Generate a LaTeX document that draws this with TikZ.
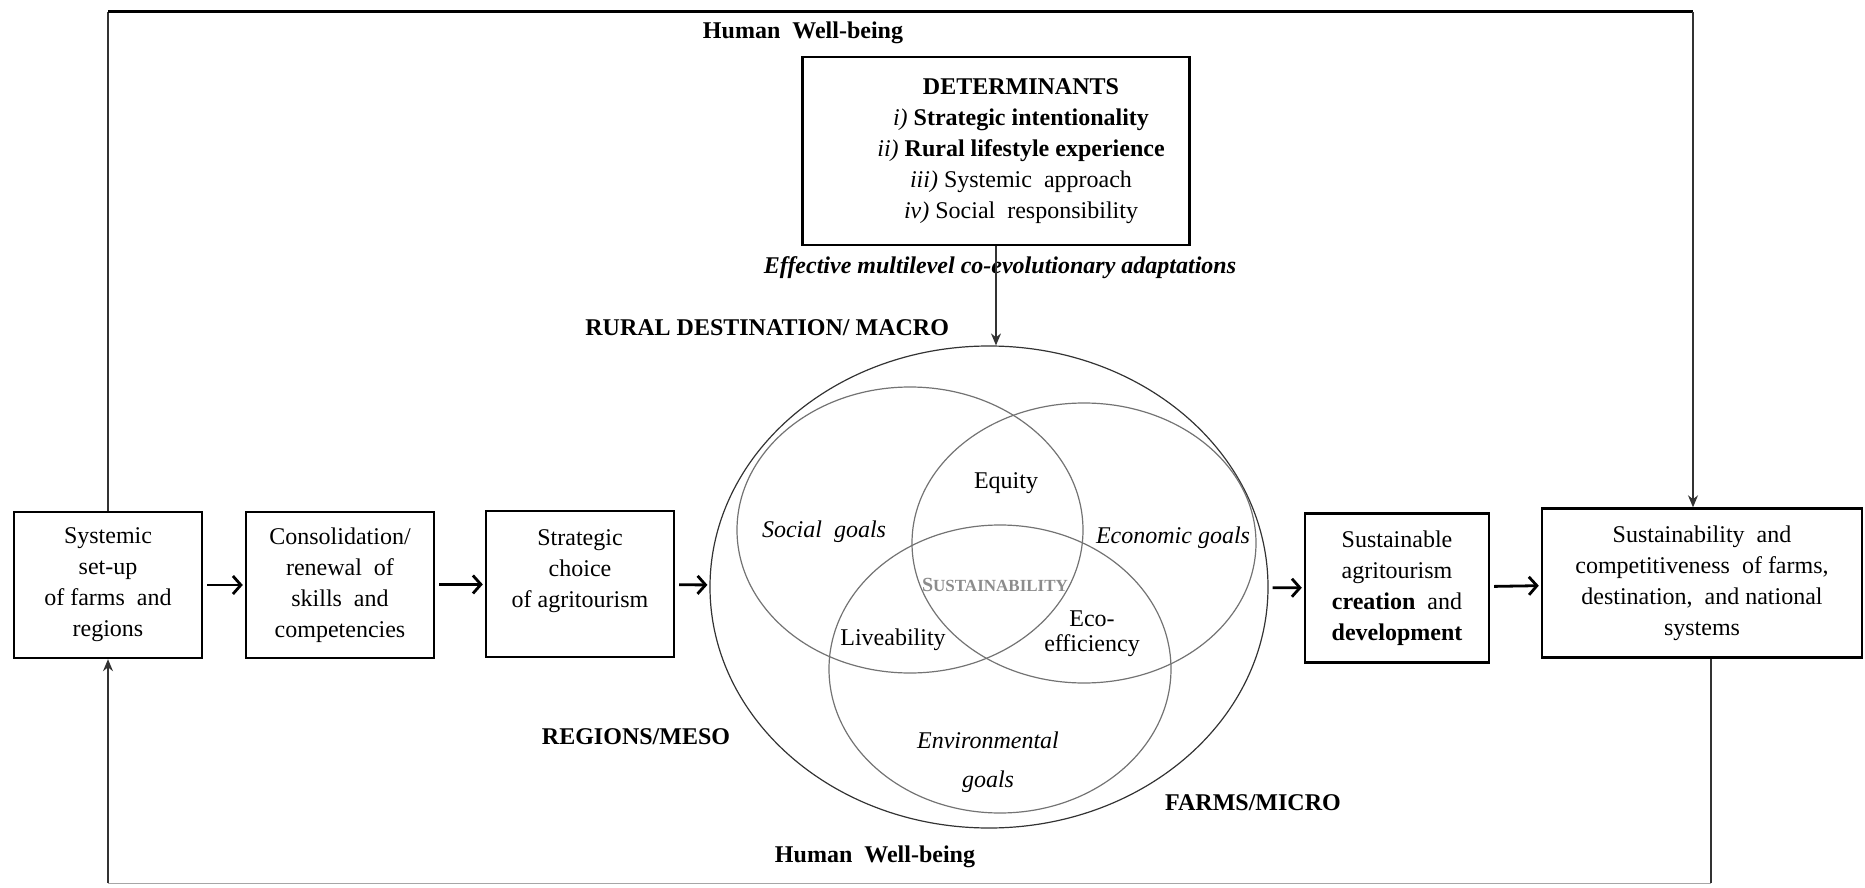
\documentclass[tikz,border=0pt]{standalone}
\usepackage{fontspec}
\setmainfont{Liberation Serif}
\usetikzlibrary{shapes.geometric,arrows.meta}

\tikzset{
  flowbox/.style={draw, line width=1.2pt, minimum width=94pt, minimum height=73pt, align=center, inner sep=1pt},
  ring/.style={ellipse, draw=black!55, line width=0.6pt, inner sep=0pt},
  lbl/.style={font=\bfseries},
  goal/.style={font=\itshape},
  flowarrow/.style={line width=1.4pt, -{Straight Barb[length=4pt,width=9pt]}, shorten <=2pt, shorten >=1pt},
  loopline/.style={line width=0.6pt, draw=black!80},
  looptip/.style={-{Stealth[length=6pt,width=5pt]}}
}

\begin{document}
\fontsize{12}{15.5}\selectfont
\begin{tikzpicture}[x=0.5pt, y=-0.5pt]
\useasboundingbox (0,0) rectangle (1865,888);

% nested circles
\node[ring, draw=black!80, minimum width=279pt, minimum height=241pt] (macro) at (989,587) {};
\node[ring, minimum width=173pt, minimum height=143pt] (social) at (910,530) {};
\node[ring, minimum width=172pt, minimum height=140pt] (econ) at (1084,543) {};
\node[ring, minimum width=171pt, minimum height=144pt] (env) at (1000,669) {};

\node[goal] at (824,532) {Social~~goals};
\node[goal] at (1173,538) {Economic goals};
\node[goal, align=center] at (988,762) {Environmental\\[4pt]goals};
\node at (1006,483) {Equity};
\node at (893,640) {Liveability};
\node[align=center] at (1092,634) {Eco-\\[-3pt]efficiency};
\node[font=\bfseries, text=black!45] at (995,585)
  {{\fontsize{10}{10}\selectfont S}{\fontsize{8.5}{10}\selectfont USTAINABILITY}};

% flow of boxes
\node[flowbox] (sys) at (108,585) {Systemic\\ set-up\\ of farms~~and\\ regions};
\node[flowbox] (skills) at (340,585) {Consolidation/\\ renewal~~of\\ skills~~and\\ competencies};
\node[flowbox] (choice) at (580,584) {Strategic\\ choice\\ of agritourism\\ ~};
\node[flowbox, minimum width=92pt, minimum height=74.5pt] (agri) at (1397,588)
  {Sustainable\\ agritourism\\ \textbf{creation}~~and\\ \textbf{development}};
\node[flowbox, minimum width=160pt, minimum height=74.5pt] (outcome) at (1702,583)
  {Sustainability~~and\\ competitiveness~~of farms,\\ destination,~~and national\\ systems};

\draw[flowarrow] (sys) -- (skills);
\draw[flowarrow] (skills) -- (choice);
\draw[flowarrow] (choice) -- (macro);
\draw[flowarrow] (macro) -- (agri);
\draw[flowarrow] (agri) -- (outcome);

% determinants
\node[draw, line width=1.2pt, minimum width=193.5pt, minimum height=94pt] (det) at (996,151) {};
\node[align=center] at ([xshift=12.5pt]det.center)
  {\textbf{DETERMINANTS}\\ \textit{i)} \textbf{Strategic intentionality}\\
   \textit{ii)} \textbf{Rural lifestyle experience}\\ \textit{iii)} Systemic~~approach\\
   \textit{iv)} Social~~responsibility};
\node[font=\bfseries\itshape] at (1000,268) {Effective multilevel co-evolutionary adaptations};
\draw[loopline, looptip] (det.south) -- (det.south |- macro.north);

% level labels
\node[lbl] at (803,33) {Human~~Well-being};
\node[lbl, anchor=west] at (577,328) {RURAL DESTINATION/~MACRO};
\node[lbl] at (636,737) {REGIONS/MESO};
\node[lbl] at (1253,803) {FARMS/MICRO};
\node[lbl] at (875,857) {Human~~Well-being};

% feedback loop
\coordinate (topL) at (108,12);
\coordinate (topR) at (1693,12);
\coordinate (botL) at (108,883);
\coordinate (botR) at (1711,883);
\draw[loopline] (sys.north) -- (topL);
\draw[line width=1.5pt] (topL) -- (topR);
\draw[loopline, looptip] (topR) -- (topR |- outcome.north);
\draw[loopline] (botR |- outcome.south) -- (botR);
\draw[draw=black!35, line width=0.5pt] (botR) -- (botL);
\draw[loopline, looptip] (botL) -- (sys.south);
\end{tikzpicture}
\end{document}
